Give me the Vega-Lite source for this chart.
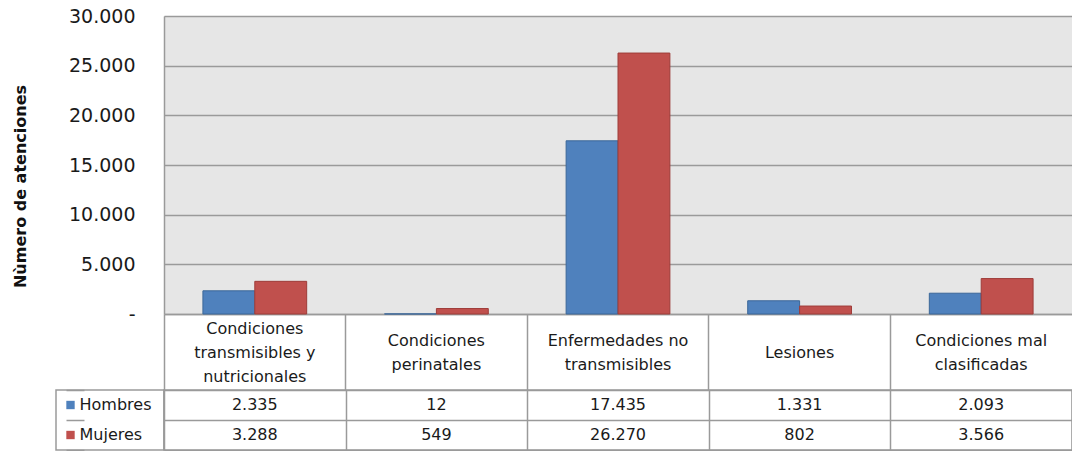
{
  "$schema": "https://vega.github.io/schema/vega-lite/v6.json",
  "padding": {"left": 12, "top": 7, "right": 0, "bottom": 0},
  "autosize": {"type": "pad"},
  "background": "white",
  "columns": 2,
  "bounds": "flush",
  "spacing": {"row": 76, "column": 0},
  "datasets": {
    "d": [
      {"categoria": "Condiciones transmisibles y nutricionales", "serie": "Hombres", "atenciones": 2335},
      {"categoria": "Condiciones transmisibles y nutricionales", "serie": "Mujeres", "atenciones": 3288},
      {"categoria": "Condiciones perinatales", "serie": "Hombres", "atenciones": 12},
      {"categoria": "Condiciones perinatales", "serie": "Mujeres", "atenciones": 549},
      {"categoria": "Enfermedades no transmisibles", "serie": "Hombres", "atenciones": 17435},
      {"categoria": "Enfermedades no transmisibles", "serie": "Mujeres", "atenciones": 26270},
      {"categoria": "Lesiones", "serie": "Hombres", "atenciones": 1331},
      {"categoria": "Lesiones", "serie": "Mujeres", "atenciones": 802},
      {"categoria": "Condiciones mal clasificadas", "serie": "Hombres", "atenciones": 2093},
      {"categoria": "Condiciones mal clasificadas", "serie": "Mujeres", "atenciones": 3566}
    ],
    "s": [{"serie": "Hombres"}, {"serie": "Mujeres"}]
  },
  "config": {
    "font": "DejaVu Sans",
    "view": {"stroke": null},
    "locale": {"number": {"decimal": ",", "thousands": ".", "grouping": [3], "currency": ["$", ""]}},
    "axis": {"labelColor": "#1a1a1a", "titleColor": "#111111"},
    "text": {"color": "#1a1a1a"}
  },
  "concat": [
    {
      "width": 108,
      "height": 298,
      "data": {"name": "s"},
      "mark": {"type": "point", "opacity": 0},
      "encoding": {}
    },
    {
      "width": 908,
      "height": 298,
      "view": {"fill": "#e6e6e6", "stroke": null},
      "data": {"name": "d"},
      "mark": {"type": "bar", "strokeWidth": 1},
      "encoding": {
        "x": {
          "field": "categoria", "type": "nominal", "sort": null,
          "scale": {"paddingInner": 0, "paddingOuter": 0},
          "axis": {
            "title": null, "bandPosition": 0, "labelAngle": 0,
            "labelBaseline": "middle", "labelAlign": "center",
            "labelPadding": {"expr": "datum.value == 'Condiciones transmisibles y nutricionales' ? -62 : datum.value == 'Lesiones' ? -38 : -50"},
            "labelLineHeight": 24, "labelFontSize": 16, "labelLimit": 0, "labelOverlap": false,
            "labelExpr": "datum.value == 'Condiciones transmisibles y nutricionales' ? ['Condiciones', 'transmisibles y', 'nutricionales'] : datum.value == 'Condiciones perinatales' ? ['Condiciones', 'perinatales'] : datum.value == 'Enfermedades no transmisibles' ? ['Enfermedades no', 'transmisibles'] : datum.value == 'Condiciones mal clasificadas' ? ['Condiciones mal', 'clasificadas'] : datum.label",
            "tickSize": 76, "tickColor": "#9a9a9a", "tickWidth": 1.5,
            "domainColor": "#9a9a9a", "domainWidth": 1.5, "grid": false
          }
        },
        "xOffset": {
          "field": "serie", "type": "nominal", "sort": ["Hombres", "Mujeres"],
          "scale": {"paddingInner": 0, "paddingOuter": 0.75}
        },
        "y": {
          "field": "atenciones", "type": "quantitative",
          "scale": {"domain": [0, 30000], "nice": false},
          "axis": {
            "title": "Nùmero de atenciones",
            "values": [0, 5000, 10000, 15000, 20000, 25000, 30000],
            "format": ",d",
            "labelExpr": "datum.value == 0 ? '-' : datum.label",
            "ticks": false, "labelPadding": 29, "labelFontSize": 19,
            "grid": true, "gridColor": "#9a9a9a", "gridWidth": 1.5,
            "domainColor": "#9a9a9a", "domainWidth": 1.5,
            "titleFontSize": 16, "titleFontWeight": "bold", "titlePadding": 40, "titleY": 170
          }
        },
        "color": {
          "field": "serie", "type": "nominal",
          "scale": {"domain": ["Hombres", "Mujeres"], "range": ["#4f81bd", "#c0504d"]},
          "legend": null
        },
        "stroke": {
          "field": "serie", "type": "nominal",
          "scale": {"domain": ["Hombres", "Mujeres"], "range": ["#3b6799", "#9e3c39"]},
          "legend": null
        }
      }
    },
    {
      "width": 108,
      "height": 60,
      "view": {"stroke": "#9a9a9a", "strokeWidth": 1.5},
      "data": {"name": "s"},
      "encoding": {
        "y": {
          "field": "serie", "type": "nominal",
          "scale": {"domain": ["Hombres", "Mujeres"], "paddingInner": 0, "paddingOuter": 0},
          "axis": {"title": null, "labels": false, "ticks": false, "domain": false, "grid": true, "tickBand": "extent", "gridColor": "#9a9a9a", "gridWidth": 1.5}
        }
      },
      "layer": [
        {
          "mark": {"type": "point", "shape": "square", "filled": true, "size": 70, "opacity": 1},
          "encoding": {
            "x": {"datum": "simbolo", "type": "nominal", "scale": {"type": "point", "domain": ["simbolo", "texto"], "range": [10, 28]}, "axis": null},
            "color": {"field": "serie", "type": "nominal", "scale": {"domain": ["Hombres", "Mujeres"], "range": ["#4f81bd", "#c0504d"]}, "legend": null}
          }
        },
        {
          "mark": {"type": "text", "align": "left", "baseline": "middle", "fontSize": 16},
          "encoding": {
            "x": {"datum": "texto", "type": "nominal"},
            "text": {"field": "serie", "type": "nominal"}
          }
        }
      ]
    },
    {
      "width": 908,
      "height": 60,
      "view": {"stroke": "#9a9a9a", "strokeWidth": 1.5},
      "data": {"name": "d"},
      "mark": {"type": "text", "baseline": "middle", "fontSize": 16},
      "encoding": {
        "x": {
          "field": "categoria", "type": "nominal", "sort": null,
          "scale": {"paddingInner": 0, "paddingOuter": 0},
          "axis": {"title": null, "labels": false, "ticks": false, "domain": false, "grid": true, "tickBand": "extent", "gridColor": "#9a9a9a", "gridWidth": 1.5}
        },
        "y": {
          "field": "serie", "type": "nominal",
          "scale": {"domain": ["Hombres", "Mujeres"], "paddingInner": 0, "paddingOuter": 0},
          "axis": {"title": null, "labels": false, "ticks": false, "domain": false, "grid": true, "tickBand": "extent", "gridColor": "#9a9a9a", "gridWidth": 1.5}
        },
        "text": {"field": "atenciones", "type": "quantitative", "format": ",d"}
      }
    }
  ]
}
